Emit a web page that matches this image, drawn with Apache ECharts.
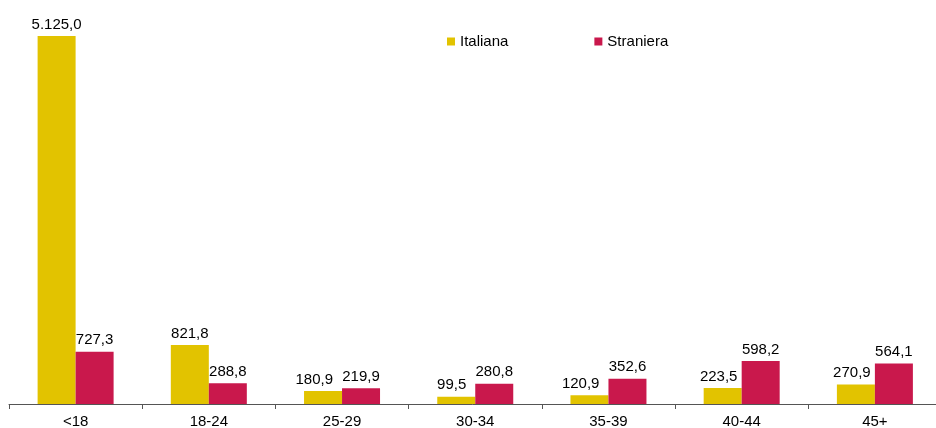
<!DOCTYPE html>
<html>
<head>
<meta charset="utf-8">
<script src="https://cdn.jsdelivr.net/npm/echarts@6/dist/echarts.min.js"></script>
<style>
  html, body { margin: 0; padding: 0; background: #fff; }
  #chartBar { width: 936px; height: 428px; }
</style>
</head>
<body>
<div id="chartBar"></div>
<script>
var categories = ['<18', '18-24', '25-29', '30-34', '35-39', '40-44', '45+'];
var italiana = [5125.0, 821.8, 180.9, 99.5, 120.9, 223.5, 270.9];
var straniera = [727.3, 288.8, 219.9, 280.8, 352.6, 598.2, 564.1];

var yMax = 5125;
var plotH = 368;

// formato italiano: 5.125,0
function fmt(v) {
    var parts = v.toFixed(1).split('.');
    parts[0] = parts[0].replace(/\B(?=(\d{3})+(?!\d))/g, '.');
    return parts[0] + ',' + parts[1];
}

var myChart = echarts.init(document.getElementById('chartBar'));
var labelStyle = {
    show: true,
    position: 'top',
    distance: 4,
    color: '#000',
    fontSize: 15,
    fontFamily: 'Liberation Sans, Arial',
    formatter: function (p) { return fmt(p.value); }
};

var option = {
    animation: false,
    legend: {
        left: 442,
        top: 29,
        itemWidth: 8,
        itemHeight: 8,
        itemGap: 86,
        icon: 'rect',
        textStyle: { color: '#000', fontSize: 15, fontFamily: 'Liberation Sans, Arial' },
        data: ['Italiana', 'Straniera']
    },
    grid: {
        top: 36,
        left: 9,
        width: 932.5,
        height: plotH,
        outerBoundsMode: 'none',
        containLabel: false
    },
    xAxis: {
        type: 'category',
        data: categories,
        axisLine: { lineStyle: { color: '#555', width: 1 } },
        axisTick: { show: true, length: 5, lineStyle: { color: '#555' } },
        axisLabel: { color: '#000', fontSize: 15, fontFamily: 'Liberation Sans, Arial', margin: 10 }
    },
    yAxis: {
        type: 'value',
        min: 0,
        max: yMax,
        show: false,
        splitLine: { show: false }
    },
    // sposta a sinistra le etichette gialle quando sono vicine a quelle rosse
    labelLayout: function (params) {
        if (params.seriesIndex !== 0) return {};
        var i = params.dataIndex;
        var diff = Math.abs(straniera[i] - italiana[i]) * plotH / yMax;
        if (diff < 18) {
            var lr = params.labelRect, r = params.rect;
            var dx = (r.x + r.width - 9) - (lr.x + lr.width);
            return { dx: Math.min(dx, 0) };
        }
        if (diff < 32) return { dx: -4 };
        return {};
    },
    series: [{
        name: 'Italiana',
        type: 'bar',
        data: italiana,
        barWidth: 38,
        barGap: '0%',
        itemStyle: { color: '#E2C300' },
        label: labelStyle
    }, {
        name: 'Straniera',
        type: 'bar',
        data: straniera,
        barWidth: 38,
        itemStyle: { color: '#C9184C' },
        label: labelStyle
    }]
};

myChart.setOption(option);
</script>
</body>
</html>
